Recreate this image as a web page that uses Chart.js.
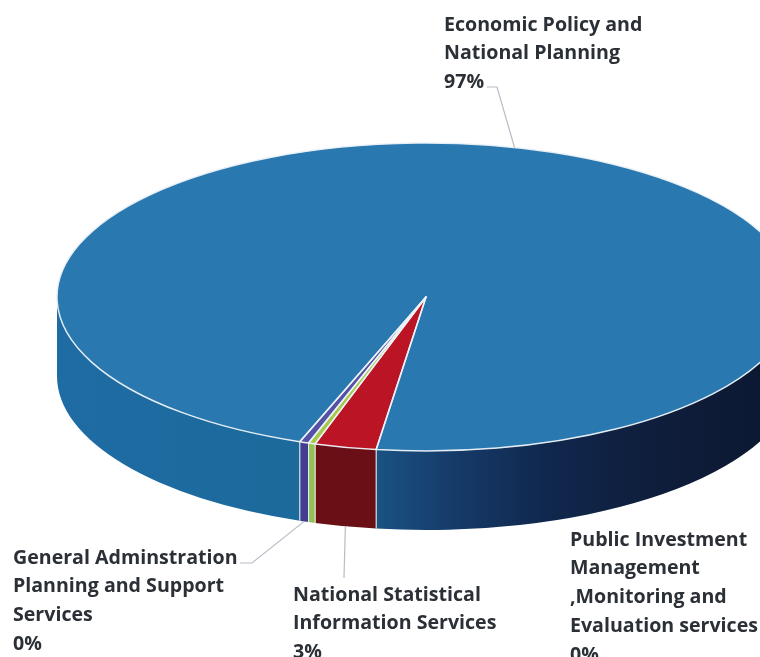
<!DOCTYPE html>
<html>
<head>
<meta charset="utf-8">
<title>Budget allocation by programme</title>
<script src="https://cdn.jsdelivr.net/npm/chart.js@4"></script>
<style>
  html, body { margin: 0; padding: 0; background: #fff; overflow: hidden; }
  canvas { display: block; }
</style>
</head>
<body>
<canvas id="pie" width="760" height="657"></canvas>
<script>
// Programme shares, in percent, clockwise from the first slice
const programmes = [
  ['Economic Policy and', 'National Planning'],
  ['National Statistical', 'Information Services'],
  ['Public Investment', 'Management', ',Monitoring and', 'Evaluation services'],
  ['General Adminstration', 'Planning and Support', 'Services']
];
const shares = [96.6, 2.7, 0.3, 0.4];
const topColours = ['#2a78b0', '#bb1424', '#a6c84a', '#5552a6'];
const wallColours = [null, '#6a0f16', '#93c152', '#423e90'];

// Where each label block sits and whether it has a leader line
const labelAnchors = [
  { x: 444, y: 25,  elbow: [[487, 87], [497, 87]] },
  { x: 293, y: 595, elbow: [[344, 578]] },
  { x: 570, y: 540, elbow: null },
  { x: 13,  y: 558, elbow: [[240, 563], [252, 563]] }
];

const RADIUS = 369;      // horizontal radius of the disc
const SQUASH = 154 / 369; // tilt of the disc
const DEPTH = 79;        // thickness of the disc
const LINE_STEP = 28.8;

function visibleFront(start, end) {
  // Parts of an angular range that lie on the near side of the disc
  const parts = [];
  for (let k = -1; k <= 2; k++) {
    const lo = Math.max(start, k * 2 * Math.PI);
    const hi = Math.min(end, k * 2 * Math.PI + Math.PI);
    if (hi > lo) parts.push([lo, hi]);
  }
  return parts;
}

function wallGradient(ctx) {
  const g = ctx.createLinearGradient(57, 0, 795, 0);
  [[0, '#1f6ca4'], [0.33, '#1c699c'], [0.43, '#1a5383'], [0.53, '#163c6b'],
   [0.66, '#10284e'], [0.8, '#0f1e3c'], [1, '#0b1730']]
    .forEach(([o, c]) => g.addColorStop(o, c));
  return g;
}

const tiltedDisc = {
  id: 'tiltedDisc',
  beforeDatasetDraw(chart) {
    const ctx = chart.ctx;
    const arcs = chart.getDatasetMeta(0).data;
    ctx.save();
    // Side wall, painted beneath the top surface
    arcs.forEach((arc, i) => {
      const { x, y, startAngle, endAngle, outerRadius: r } = arc.getProps(['x', 'y', 'startAngle', 'endAngle', 'outerRadius']);
      visibleFront(startAngle, endAngle).forEach(([a, b]) => {
        ctx.beginPath();
        ctx.ellipse(x, y, r, r * SQUASH, 0, a, b);
        ctx.ellipse(x, y + DEPTH, r, r * SQUASH, 0, b, a, true);
        ctx.closePath();
        ctx.fillStyle = wallColours[i] || wallGradient(ctx);
        ctx.fill();
      });
    });
    // Light seams between the wall segments
    ctx.strokeStyle = 'rgba(236,242,248,0.95)';
    ctx.lineWidth = 1.1;
    arcs.forEach((arc) => {
      const { x, y, startAngle, outerRadius: r } = arc.getProps(['x', 'y', 'startAngle', 'outerRadius']);
      const s = Math.sin(startAngle);
      if (s > 0) {
        const px = x + r * Math.cos(startAngle);
        const py = y + r * SQUASH * s;
        ctx.beginPath();
        ctx.moveTo(px, py);
        ctx.lineTo(px, py + DEPTH);
        ctx.stroke();
      }
    });
    ctx.restore();
    // The library paints the circular arcs inside this squashed frame
    const c = arcs[0];
    ctx.save();
    ctx.translate(c.x, c.y);
    ctx.scale(1, SQUASH);
    ctx.translate(-c.x, -c.y);
  },
  afterDatasetDraw(chart) {
    const ctx = chart.ctx;
    ctx.restore();
    const arcs = chart.getDatasetMeta(0).data;

    // Pale outline of every top slice
    ctx.save();
    ctx.strokeStyle = 'rgba(236,242,248,0.95)';
    ctx.lineWidth = 1.5;
    ctx.lineJoin = 'round';
    arcs.forEach((arc) => {
      const { x, y, startAngle, endAngle, outerRadius: r } = arc.getProps(['x', 'y', 'startAngle', 'endAngle', 'outerRadius']);
      ctx.beginPath();
      ctx.moveTo(x, y);
      ctx.ellipse(x, y, r, r * SQUASH, 0, startAngle, endAngle);
      ctx.closePath();
      ctx.stroke();
    });
    ctx.restore();

    // Leader lines run from the label to the rim at each slice's middle angle
    ctx.save();
    ctx.strokeStyle = '#b9bbc6';
    ctx.lineWidth = 1.2;
    arcs.forEach((arc, i) => {
      const elbow = labelAnchors[i].elbow;
      if (!elbow) return;
      const { x, y, startAngle, endAngle, outerRadius: r } = arc.getProps(['x', 'y', 'startAngle', 'endAngle', 'outerRadius']);
      const mid = (startAngle + endAngle) / 2;
      const s = Math.sin(mid);
      const ex = x + r * Math.cos(mid);
      const ey = y + r * SQUASH * s + (s > 0 ? DEPTH : 0);
      ctx.beginPath();
      elbow.forEach(([px, py], k) => (k ? ctx.lineTo(px, py) : ctx.moveTo(px, py)));
      ctx.lineTo(ex, ey);
      ctx.stroke();
    });
    ctx.restore();

    // Category labels with their rounded share
    ctx.save();
    ctx.fillStyle = '#2b2f36';
    ctx.font = '700 19.6px "Open Sans"';
    ctx.textBaseline = 'middle';
    ctx.textAlign = 'left';
    programmes.forEach((lines, i) => {
      const a = labelAnchors[i];
      lines.concat(Math.round(shares[i]) + '%').forEach((t, k) => {
        ctx.fillText(t, a.x, a.y + k * LINE_STEP);
      });
    });
    ctx.restore();
  }
};

new Chart(document.getElementById('pie'), {
  type: 'pie',
  data: {
    labels: programmes.map((l) => l.join(' ')),
    datasets: [{
      data: shares,
      backgroundColor: topColours,
      borderWidth: 0,
      clip: false
    }]
  },
  options: {
    responsive: false,
    animation: false,
    radius: RADIUS,
    rotation: 200,
    layout: { padding: { left: 92, bottom: 63 } },
    plugins: { legend: { display: false }, tooltip: { enabled: false } }
  },
  plugins: [tiltedDisc]
});
</script>
</body>
</html>
